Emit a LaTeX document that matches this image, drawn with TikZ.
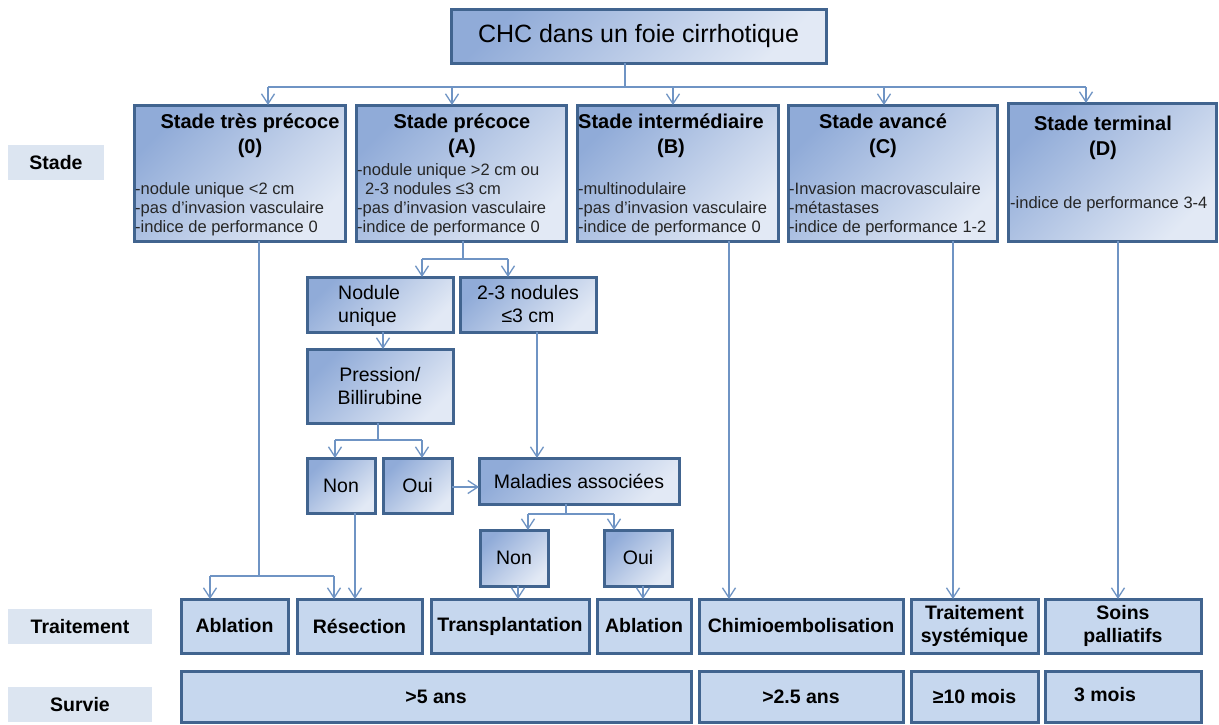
\documentclass[tikz,border=0pt]{standalone}
\usepackage{fontspec}
\setmainfont{Liberation Sans}
\usetikzlibrary{arrows.meta}
\definecolor{bord}{HTML}{41648F}
\definecolor{gdark}{HTML}{90ABD8}
\definecolor{glight}{HTML}{E2E9F5}
\definecolor{flat}{HTML}{C6D7EE}
\definecolor{lab}{HTML}{DCE5F1}
\definecolor{conn}{HTML}{6F94C4}
\begin{document}
\begin{tikzpicture}[x=1pt,y=-1pt,
  sz/.style 2 args={minimum width=#1pt,minimum height=#2pt},
  box/.style={draw=bord,line width=3pt,inner sep=0pt,outer sep=0pt},
  gbox/.style={box,top color=gdark,bottom color=glight,shading angle=45},
  fbox/.style={box,fill=flat},
  lbox/.style={fill=lab,inner sep=0pt,font=\bfseries\fontsize{19.5}{23}\selectfont},
  cline/.style={draw=conn,line width=1.3pt},
  arr/.style={cline,-{Straight Barb[length=10pt,width=13pt]}},
  title/.style={font=\bfseries\fontsize{20}{25}\selectfont,align=center,inner sep=0pt},
  bul/.style={font=\fontsize{16.5}{19}\selectfont,align=left,anchor=west,inner sep=0pt,text=black!85},
  mid/.style={font=\fontsize{19.5}{23}\selectfont,align=center},
  trt/.style={font=\bfseries\fontsize{19.5}{23}\selectfont,align=center}
]
\useasboundingbox[fill=white] (0,0) rectangle (1219,724);
% row labels
\node[lbox,sz={96}{35}] (lstade) at (56,162.5) {Stade};
\node[lbox,sz={144}{35}] (ltrait) at (80,626.5) {Traitement};
\node[lbox,sz={144}{35}] (lsurv) at (80,704.5) {Survie};
% top
\node[gbox,sz={375}{54},font=\fontsize{25}{30}\selectfont] (chc) at (638.5,36) {CHC dans un foie cirrhotique};
% stages
\node[gbox,sz={211}{136}] (s0) at (239.5,173) {};
\node[gbox,sz={210}{136}] (sA) at (461,173) {};
\node[gbox,sz={201}{136}] (sB) at (677.5,173) {};
\node[gbox,sz={209}{136}] (sC) at (892.5,173) {};
\node[gbox,sz={208}{138}] (sD) at (1112,172) {};
\node[title] (s0t) at (250,135.5) {Stade très précoce\\(0)};
\node[title] (sAt) at (462,135.5) {Stade précoce\\(A)};
\node[title] (sBt) at (671,135.5) {Stade intermédiaire\\(B)};
\node[title] (sCt) at (883,135.5) {Stade avancé\\(C)};
\node[title] (sDt) at (1103,137.5) {Stade terminal\\(D)};
\node[bul] (s0b) at (135,209) {-nodule unique <2 cm\\-pas d'invasion vasculaire\\-indice de performance 0};
\node[bul] (sAb) at (357,199.5) {-nodule unique >2 cm ou\\\hspace*{8pt}2-3 nodules ≤3 cm\\-pas d'invasion vasculaire\\-indice de performance 0};
\node[bul] (sBb) at (578,209) {-multinodulaire\\-pas d'invasion vasculaire\\-indice de performance 0};
\node[bul] (sCb) at (789,209) {-Invasion macrovasculaire\\-métastases\\-indice de performance 1-2};
\node[bul] (sDb) at (1010,204) {-indice de performance 3-4};
% middle
\node[gbox,sz={146}{55}] (nod) at (380,304.5) {};
\node[mid,anchor=west,align=left,inner sep=0pt] (nodt) at (338,305.5) {Nodule\\unique};
\node[gbox,sz={136}{55},mid] (deux) at (528,304.5) {2-3 nodules\\≤3 cm};
\node[gbox,sz={146}{74},mid] (pres) at (380,386) {Pression/\\Billirubine};
\node[gbox,sz={68}{55},mid] (non1) at (341,485.5) {Non};
\node[gbox,sz={69}{55},mid] (oui1) at (417.5,485.5) {Oui};
\node[gbox,sz={200}{46},mid] (mal) at (579,481) {Maladies associées};
\node[gbox,sz={68}{56},mid] (non2) at (514,558) {Non};
\node[gbox,sz={68}{56},mid] (oui2) at (638,558) {Oui};
% treatment
\node[fbox,sz={107}{54},trt] (t1) at (234.5,626) {Ablation};
\node[fbox,sz={125}{54},trt] (t2) at (359.5,626) {Résection};
\node[fbox,sz={158}{54},trt] (t3) at (510,626) {Transplantation};
\node[fbox,sz={94}{54},trt] (t4) at (644,626) {Ablation};
\node[fbox,sz={204}{54},trt] (t5) at (801,626) {Chimioembolisation};
\node[fbox,sz={127}{54},trt] (t6) at (974.5,626) {Traitement\\systémique};
\node[fbox,sz={156}{54},trt] (t7) at (1123,626) {Soins\\palliatifs};
% survival
\node[fbox,sz={510}{51},trt] (v1) at (436,696.5) {>5 ans};
\node[fbox,sz={204}{51},trt] (v2) at (801,696.5) {>2.5 ans};
\node[fbox,sz={127}{51},trt] (v3) at (974.5,696.5) {≥10 mois};
\node[fbox,sz={156}{51}] (v4) at (1123,696.5) {};
\node[trt,inner sep=0pt] (v4t) at (1105,695) {3 mois};
% connectors from top
\coordinate (j0) at (625,87);
\coordinate (h0) at (268,87);
\coordinate (hA) at (452,87);
\coordinate (hB) at (673,87);
\coordinate (hC) at (884,87);
\coordinate (h4) at (1086,87);
\draw[cline] (chc.south -| j0) -- (j0);
\draw[cline] (h0) -- (h4);
\draw[arr] (h0) -- (h0 |- s0.north);
\draw[arr] (hA) -- (hA |- sA.north);
\draw[arr] (hB) -- (hB |- sB.north);
\draw[arr] (hC) -- (hC |- sC.north);
\draw[arr] (h4) -- (h4 |- sD.north);
% stage A split
\coordinate (a1) at (463,259);
\coordinate (a2) at (422,259);
\coordinate (a3) at (508,259);
\draw[cline] (sA.south -| a1) -- (a1);
\draw[cline] (a2) -- (a3);
\draw[arr] (a2) -- (a2 |- nod.north);
\draw[arr] (a3) -- (a3 |- deux.north);
\draw[arr] (nod.south -| 383,0) -- (pres.north -| 383,0);
% pression split
\coordinate (p1) at (378,440);
\coordinate (p2) at (335,440);
\coordinate (p3) at (422,440);
\draw[cline] (pres.south -| p1) -- (p1);
\draw[cline] (p2) -- (p3);
\draw[arr] (p2) -- (p2 |- non1.north);
\draw[arr] (p3) -- (p3 |- oui1.north);
\draw[arr] (deux.south -| 537,0) -- (mal.north -| 537,0);
\draw[arr] (oui1.east |- 0,487) -- (mal.west |- 0,487);
% maladies split
\coordinate (m1) at (566,514);
\coordinate (m2) at (528,514);
\coordinate (m3) at (614,514);
\draw[cline] (mal.south -| m1) -- (m1);
\draw[cline] (m2) -- (m3);
\draw[arr] (m2) -- (m2 |- non2.north);
\draw[arr] (m3) -- (m3 |- oui2.north);
\draw[arr] (non2.south -| 518,0) -- (t3.north -| 518,0);
\draw[arr] (oui2.south -| 643,0) -- (t4.north -| 643,0);
% stage 0 split
\coordinate (z1) at (259,576);
\coordinate (z2) at (210,576);
\coordinate (z3) at (334,576);
\draw[cline] (s0.south -| z1) -- (z1);
\draw[cline] (z2) -- (z3);
\draw[arr] (z2) -- (z2 |- t1.north);
\draw[arr] (z3) -- (z3 |- t2.north);
\draw[arr] (non1.south -| 355,0) -- (t2.north -| 355,0);
% long verticals
\draw[arr] (sB.south -| 729,0) -- (t5.north -| 729,0);
\draw[arr] (sC.south -| 953,0) -- (t6.north -| 953,0);
\draw[arr] (sD.south -| 1118,0) -- (t7.north -| 1118,0);
\end{tikzpicture}
\end{document}
